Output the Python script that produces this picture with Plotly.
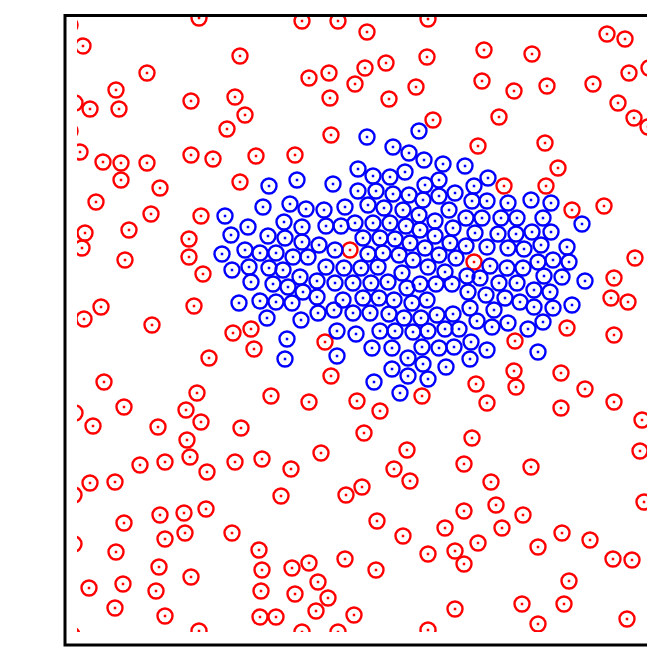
import plotly.graph_objects as go

# Particle positions (x to the right, y downward)
red_pts = [
    (199,18),(83,46),(240,56),(147,73),(116,90),(75,103),(90,109),(119,109),(191,101),(235,97),
    (245,115),(227,129),(80,152),(103,162),(121,163),(147,163),(191,155),(213,159),(256,156),(121,180),
    (160,188),(240,182),(96,202),(151,214),(201,216),(85,233),(129,230),(82,248),(125,260),(189,239),
    (189,257),(203,274),(101,307),(84,319),(152,325),(194,306),(233,333),(251,329),(254,349),(209,358),
    (104,382),(197,393),(186,410),(201,422),(124,407),(75,413),(93,426),(158,427),(241,428),(187,440),
    (190,457),(140,465),(165,462),(207,472),(235,462),(90,483),(115,482),(74,495),(160,515),(184,513),
    (206,509),(124,523),(165,539),(185,533),(232,533),(74,544),(116,552),(259,550),(159,567),(191,577),
    (89,588),(123,584),(156,591),(115,608),(165,616),(199,631),(262,570),(261,591),(260,617),(276,617),
    (72,635),(70,25),(70,131),
    (262,459),(291,469),(321,453),(407,450),(394,469),(410,481),(281,496),(346,495),(362,487),(377,521),
    (403,536),(445,528),(428,554),(455,551),(292,568),(309,563),(345,559),(376,570),(318,582),(328,598),
    (295,594),(316,611),(354,615),(302,632),(338,632),(428,630),(455,609),(364,433),(472,438),(464,464),
    (531,467),(491,482),(496,505),(464,511),(523,515),(502,528),(478,543),(464,564),(538,547),(562,533),
    (590,540),(613,559),(632,560),(569,581),(522,604),(564,604),(538,624),(627,619),(640,451),(644,502),
    (350,250),(325,342),(331,376),(271,396),(309,402),(357,401),(380,411),(422,396),
    (474,262),(635,258),(614,278),(611,298),(628,302),(567,328),(614,335),(515,341),(514,371),(516,387),
    (476,384),(561,373),(585,389),(614,402),(487,403),(561,408),(642,420),
    (302,21),(338,21),(428,19),(367,32),(427,57),(386,63),(365,68),(329,73),(309,78),(355,84),
    (416,87),(330,98),(389,99),(433,120),(331,135),(295,155),(607,34),(625,39),(649,68),(484,50),
    (532,54),(482,81),(514,91),(547,86),(593,84),(629,73),(618,103),(634,118),(648,127),(499,117),
    (478,146),(545,143),(558,168),(546,186),(504,186),(572,210),(604,206),
]

blue_pts = [
    (269,186),(297,180),(333,184),(263,207),(290,204),(306,209),(324,210),(345,207),
    (225,216),(248,227),(284,222),(302,227),(326,226),(341,226),
    (231,235),(268,236),(285,238),(302,242),(319,245),(335,250),
    (222,254),(245,250),(260,253),(276,253),(293,257),(308,257),
    (232,270),(249,267),(269,268),(283,270),(300,277),(326,267),(344,268),
    (251,282),(273,284),(288,287),(317,281),(335,283),
    (303,292),(317,297),
    (239,303),(260,301),(276,302),(292,303),(343,300),
    (267,318),(301,320),(318,313),(334,310),
    (287,339),(337,331),(285,359),(337,356),
    (367,137),(419,131),(393,147),(409,153),(424,160),(443,164),
    (358,169),(373,176),(390,177),(405,172),(425,185),(439,180),(465,166),
    (358,191),(376,191),(393,194),(409,195),(423,200),(439,196),(455,193),
    (368,205),(384,208),(403,210),(419,215),(449,210),(466,218),
    (355,223),(373,223),(390,223),(406,226),(420,230),(435,221),(453,228),
    (363,238),(380,238),(395,239),(410,243),(425,248),(435,236),(450,243),(466,246),
    (368,254),(383,253),(399,255),(413,260),(439,255),(456,258),
    (361,268),(378,267),(402,273),(428,267),(445,272),
    (353,283),(371,283),(388,282),(407,288),(420,284),(436,284),(452,284),
    (363,298),(379,298),(394,300),(412,303),(427,300),(468,292),
    (353,313),(370,313),(389,314),(404,318),(421,318),(437,315),(453,314),
    (356,334),(380,331),(395,331),(413,332),(428,331),(445,329),(459,329),
    (372,348),(392,348),(422,347),(439,348),(454,347),
    (408,358),(423,364),(392,369),(446,367),(408,376),(428,379),(374,382),(400,393),(470,359),
    (488,178),(474,186),(531,200),(551,203),(472,201),(487,201),(508,203),
    (482,218),(501,218),(517,218),(543,218),(582,224),
    (475,233),(498,234),(516,234),(532,232),(551,232),
    (487,247),(508,248),(524,249),(541,245),(567,247),
    (490,266),(507,268),(523,268),(538,262),(553,260),(569,262),
    (467,276),(480,278),(499,283),(517,283),(544,276),(562,277),(585,281),
    (486,295),(505,298),(520,302),(534,290),(550,292),
    (534,307),(553,308),(572,305),(470,308),(494,310),
    (477,321),(492,327),(508,323),(528,329),(543,322),
    (487,350),(471,342),(538,352),
]

red_x = [p[0] for p in red_pts]
red_y = [p[1] for p in red_pts]
blue_x = [p[0] for p in blue_pts]
blue_y = [p[1] for p in blue_pts]

RED = "#ff0000"
BLUE = "#0000ff"
ring = dict(symbol="circle-open", size=15, line=dict(width=2.4))
dot = dict(symbol="square", size=2.5)

fig = go.Figure()
fig.add_trace(go.Scatter(x=red_x, y=red_y, mode="markers",
                         marker=dict(**ring, color=RED), hoverinfo="skip"))
fig.add_trace(go.Scatter(x=red_x, y=red_y, mode="markers",
                         marker=dict(**dot, color=RED), hoverinfo="skip"))
fig.add_trace(go.Scatter(x=blue_x, y=blue_y, mode="markers",
                         marker=dict(**ring, color=BLUE), hoverinfo="skip"))
fig.add_trace(go.Scatter(x=blue_x, y=blue_y, mode="markers",
                         marker=dict(**dot, color=BLUE), hoverinfo="skip"))

L, T, B, W, H = 77, 17, 28, 647, 660
pw = W - L
ph = H - T - B
def px_x(p):
    return (p - L) / pw
def px_y(p):
    return (H - B - p) / ph

fig.add_shape(type="rect", xref="paper", yref="paper",
              x0=px_x(65), x1=px_x(655), y0=px_y(645), y1=px_y(15.5),
              line=dict(color="black", width=3), fillcolor="rgba(0,0,0,0)")

fig.update_xaxes(range=[L, W], visible=False, showgrid=False, zeroline=False)
fig.update_yaxes(range=[H - B, T], visible=False, showgrid=False, zeroline=False)
fig.update_layout(width=W, height=H, showlegend=False, hovermode=False,
                  margin=dict(l=L, r=0, t=T, b=B, pad=0),
                  paper_bgcolor="white", plot_bgcolor="white")

fig.write_html("out.html",
               config={"displayModeBar": False, "staticPlot": True},
               post_script="document.body.style.margin='0';"
                           "document.body.style.overflow='hidden';"
                           "document.documentElement.style.overflow='hidden';")
